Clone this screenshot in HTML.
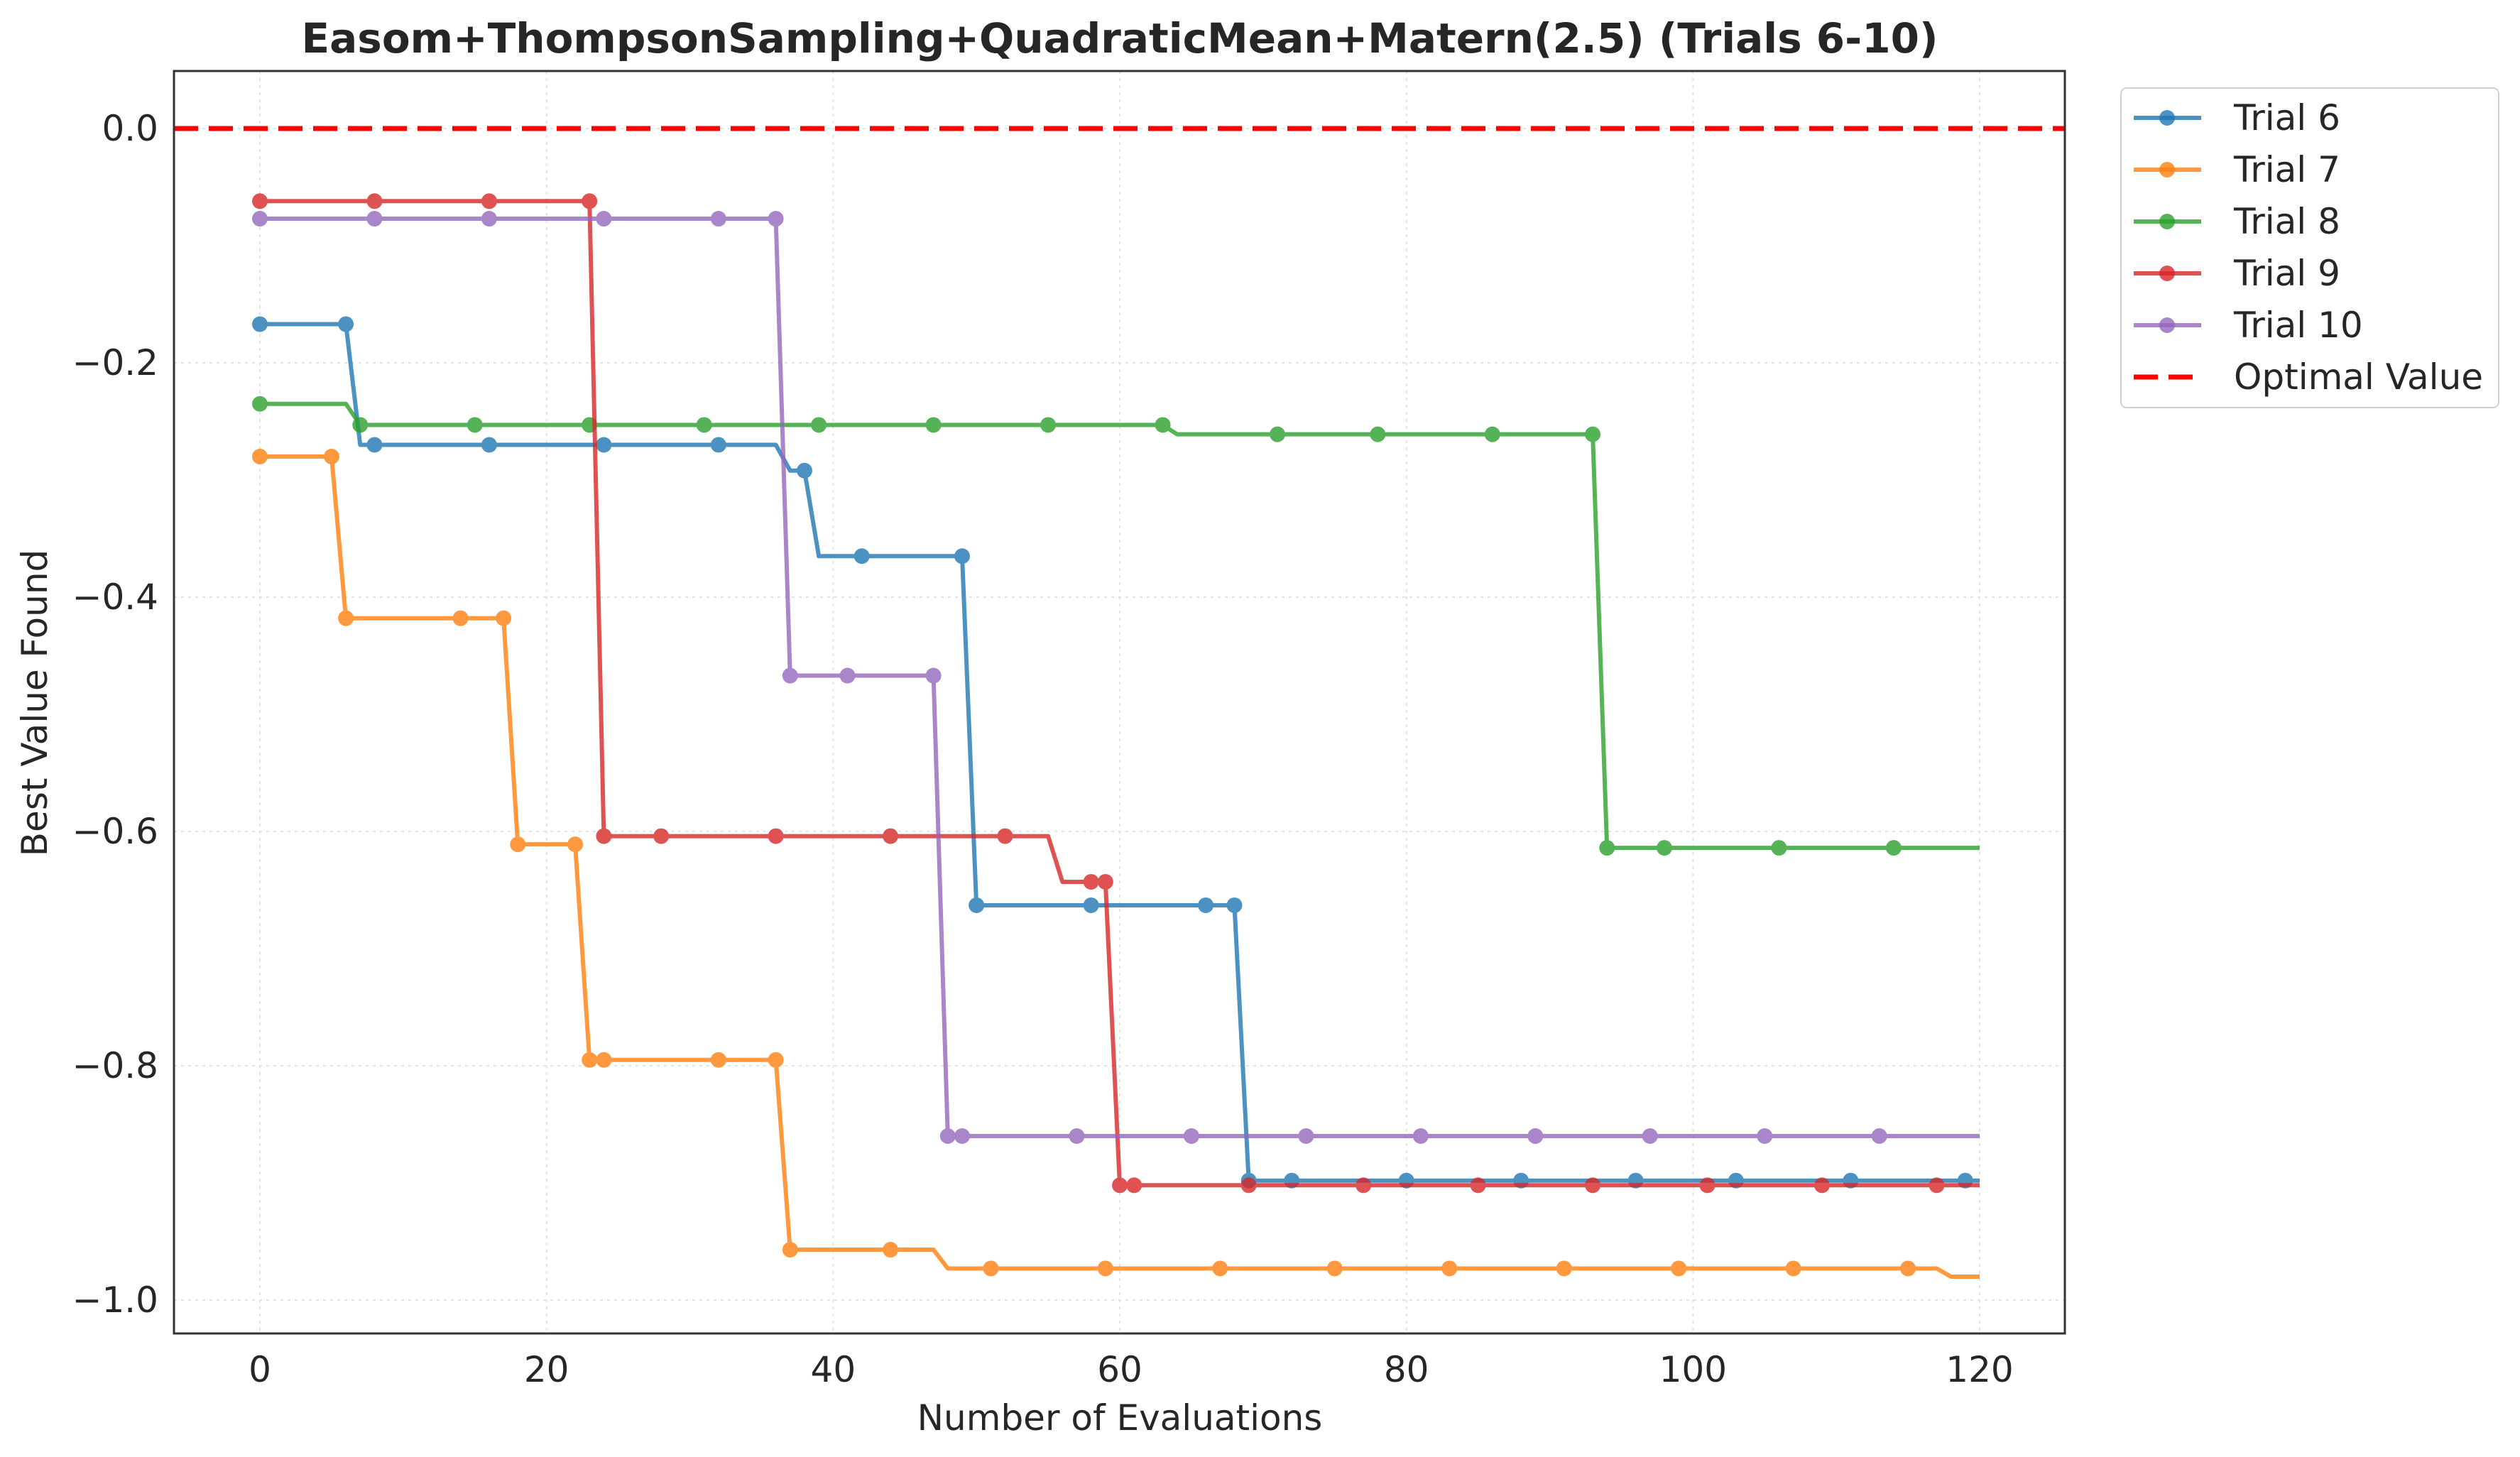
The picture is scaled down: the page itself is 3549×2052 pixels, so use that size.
<!DOCTYPE html>
<html><head><meta charset="utf-8"><style>
html,body{margin:0;padding:0;background:#fff;}
svg{display:block;font-family:"DejaVu Sans","Liberation Sans",sans-serif;}
</style></head><body>
<svg id="chart" width="3549" height="2052" viewBox="0 0 3549 2052" xmlns="http://www.w3.org/2000/svg">
<rect width="3549" height="2052" fill="#fff"/>
<g id="grid"></g>
<g id="series"></g>
<rect x="245" y="100" width="2663" height="1778" fill="none" stroke="#333" stroke-width="3"/>
<g id="ticks"></g>
<text x="1577" y="74" text-anchor="middle" font-size="58" font-weight="bold" fill="#262626">Easom+ThompsonSampling+QuadraticMean+Matern(2.5) (Trials 6-10)</text>
<text x="1577" y="2014" text-anchor="middle" font-size="50" fill="#262626">Number of Evaluations</text>
<text x="0" y="0" transform="translate(66,990) rotate(-90)" text-anchor="middle" font-size="50" fill="#262626">Best Value Found</text>
<g id="legend"></g>
</svg>
<script>
const xTicks=[0,20,40,60,80,100,120];
const yTicks=[0,-0.2,-0.4,-0.6,-0.8,-1.0];
const yTickLabels=["0.0","\u22120.2","\u22120.4","\u22120.6","\u22120.8","\u22121.0"];
const trialNames=["Trial 6","Trial 7","Trial 8","Trial 9","Trial 10"];
const colors=["#1f77b4","#ff7f0e","#2ca02c","#d62728","#9467bd"];
const optimalValue=0;
const t6X=[0,7,37,39,50,69];
const t6V=[-0.167,-0.270,-0.292,-0.365,-0.663,-0.898];
const t6M=[0,6,8,16,24,32,38,42,49,50,58,66,68,69,72,80,88,96,103,111,119];
const t7X=[0,6,18,23,37,48,118];
const t7V=[-0.280,-0.418,-0.611,-0.795,-0.957,-0.973,-0.980];
const t7M=[0,5,6,14,17,18,22,23,24,32,36,37,44,51,59,67,75,83,91,99,107,115];
const t8X=[0,7,64,94];
const t8V=[-0.235,-0.253,-0.261,-0.614];
const t8M=[0,7,15,23,31,39,47,55,63,71,78,86,93,94,98,106,114];
const t9X=[0,24,56,60];
const t9V=[-0.062,-0.604,-0.643,-0.902];
const t9M=[0,8,16,23,24,28,36,44,52,58,59,60,61,69,77,85,93,101,109,117];
const t10X=[0,37,48];
const t10V=[-0.077,-0.467,-0.860];
const t10M=[0,8,16,24,32,36,37,41,47,48,49,57,65,73,81,89,97,105,113];
const nEval=120;

const NS="http://www.w3.org/2000/svg";
const L=245,R=2908,T=100,B=1878;
const xs=v=>366+v*(2788-366)/120;
const ys=v=>181-v*(1831-181);
function mk(tag,attrs,parent){const e=document.createElementNS(NS,tag);for(const k in attrs)e.setAttribute(k,attrs[k]);parent.appendChild(e);return e;}
const grid=document.getElementById('grid'),ticks=document.getElementById('ticks'),ser=document.getElementById('series'),leg=document.getElementById('legend');
xTicks.forEach(v=>{
 const g=mk('line',{x1:xs(v),x2:xs(v),y1:T,y2:B,stroke:'#e3e3e3','stroke-width':2,'stroke-dasharray':'4 6'},grid);
 
 
 const t=mk('text',{x:xs(v),y:B+68,'text-anchor':'middle','font-size':50,fill:'#262626'},ticks);t.textContent=v;
 
 
});
yTicks.forEach((v,i)=>{
 const g=mk('line',{x1:L,x2:R,y1:ys(v),y2:ys(v),stroke:'#e3e3e3','stroke-width':2,'stroke-dasharray':'4 6'},grid);
 
 
 const t=mk('text',{x:L-22,y:ys(v)+17,'text-anchor':'end','font-size':50,fill:'#262626'},ticks);t.textContent=yTickLabels[i];
 
 
});
function valueAt(X,V,i){let r=V[0];for(let k=0;k<X.length;k++)if(i>=X[k])r=V[k];return r;}
const all=[[t6X,t6V,t6M],[t7X,t7V,t7M],[t8X,t8V,t8M],[t9X,t9V,t9M],[t10X,t10V,t10M]];
all.forEach((s,si)=>{
 const g=mk('g',{opacity:0.8},ser);
 
 
 let pts=[];for(let i=0;i<=nEval;i++)pts.push(xs(i)+','+ys(valueAt(s[0],s[1],i)));
 const p=mk('polyline',{points:pts.join(' '),fill:'none',stroke:colors[si],'stroke-width':6,'stroke-linejoin':'round'},g);
 
 
 s[2].forEach(m=>{
  const c=mk('circle',{cx:xs(m),cy:ys(valueAt(s[0],s[1],m)),r:11,fill:colors[si]},g);
  
  
 });
});
const opt=mk('line',{x1:L,x2:R,y1:ys(optimalValue),y2:ys(optimalValue),stroke:'#ff0000','stroke-width':7,'stroke-dasharray':'34 15'},ser);


const lb=mk('rect',{x:2987,y:124,width:532,height:450,rx:8,fill:'#fff',stroke:'#d0d0d0','stroke-width':2},leg);


const labels=trialNames.concat(["Optimal Value"]);
labels.forEach((n,i)=>{
 const y=166+i*73;
 const g=mk('g',{},leg);
 
 
 if(i<5){
  mk('line',{x1:3005,x2:3100,y1:y,y2:y,stroke:colors[i],'stroke-width':6,opacity:0.8},g);
  mk('circle',{cx:3052,cy:y,r:11,fill:colors[i],opacity:0.8},g);
 } else {
  mk('line',{x1:3005,x2:3100,y1:y,y2:y,stroke:'#ff0000','stroke-width':7,'stroke-dasharray':'34 15'},g);
 }
 const t=mk('text',{x:3146,y:y+17,'font-size':50,fill:'#262626'},g);t.textContent=n;
});
</script>
</body></html>
